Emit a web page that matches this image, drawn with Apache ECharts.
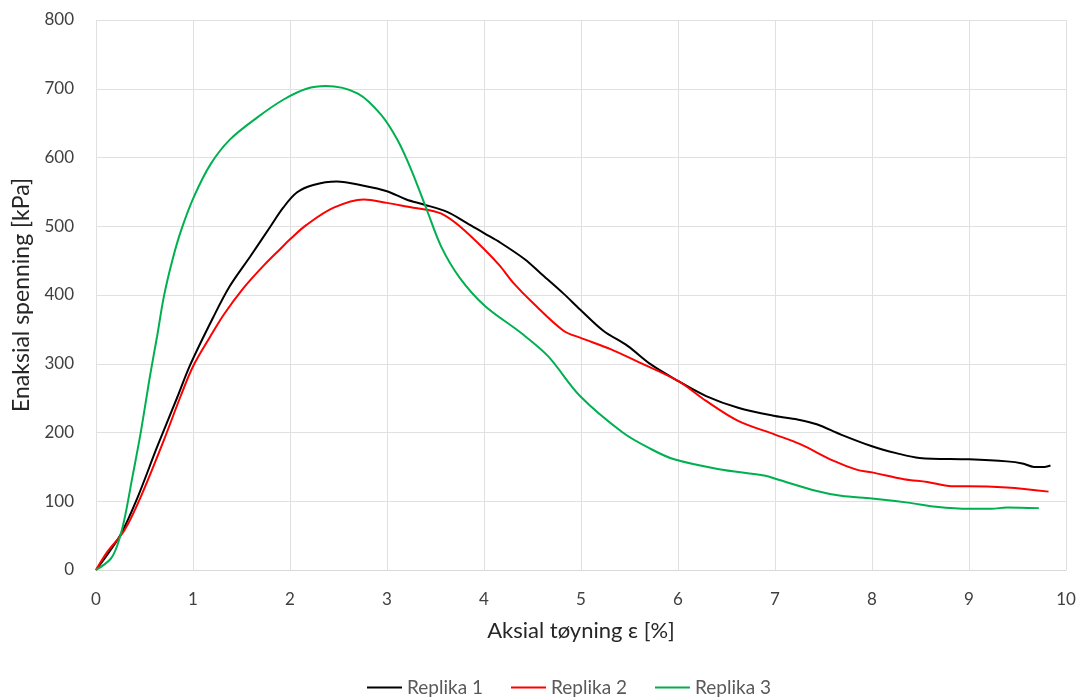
<!DOCTYPE html>
<html><head><meta charset="utf-8">
<script src="https://cdn.jsdelivr.net/npm/echarts@6/dist/echarts.min.js"></script>
<style>html,body{margin:0;padding:0;background:#fff}#c{width:1083px;height:700px}</style>
</head><body><div id="c"></div>
<script>
const seriesNames = ['Replika 1', 'Replika 2', 'Replika 3'];
const xTitle = 'Aksial tøyning ε [%]';
const yTitle = 'Enaksial spenning [kPa]';

const strain1 = [0,0.12,0.26,0.43,0.63,0.84,0.97,1.21,1.38,1.59,1.80,1.93,2.07,2.24,2.48,2.76,3.0,3.2,3.37,3.62,3.82,4.0,4.17,4.42,4.58,4.82,4.99,5.23,5.48,5.72,6.0,6.29,6.62,7.0,7.23,7.43,7.68,8.0,8.25,8.49,9.0,9.39,9.55,9.67,9.78,9.84];
const stress1 = [0,23,53,106,179,252,298,368,413,456,500,527,549,560,565,559,551,539,532,521,505,490,476,452,432,402,379,348,326,299,275,253,236,224,219,212,197,180,170,163,161,158,155,150,150,152];

const strain2 = [0,0.12,0.29,0.46,0.70,0.87,1.0,1.18,1.32,1.52,1.73,1.90,2.0,2.17,2.45,2.76,3.0,3.27,3.41,3.58,3.75,4.0,4.16,4.3,4.5,4.82,4.99,5.31,5.6,6.0,6.29,6.62,7.0,7.26,7.6,7.84,8.0,8.33,8.57,8.82,9.0,9.39,9.82];
const stress2 = [0,27,57,106,189,252,296,340,372,410,443,467,481,502,527,539,534,527,524,517,500,467,443,418,389,348,338,321,302,275,246,217,197,183,159,146,142,132,128,122,122,120,114];

const strain3 = [0,0.15,0.22,0.29,0.375,0.46,0.56,0.63,0.70,0.79,0.88,1.01,1.18,1.38,1.66,1.93,2.17,2.37,2.70,2.94,3.11,3.25,3.41,3.56,3.75,4.01,4.38,4.66,4.99,5.43,5.72,5.96,6.41,6.90,7.02,7.43,7.68,8.0,8.37,8.66,9.0,9.23,9.39,9.72];
const stress3 = [0,16,36,72,135,199,285,340,398,452,495,543,590,626,658,684,700,704,693,662,625,582,524,470,425,384,345,311,253,200,176,161,147,137,132,115,108,104,98,92,89,89,91,90];

const xTicks = [0,1,2,3,4,5,6,7,8,9,10];
const yTicks = [0,100,200,300,400,500,600,700,800];

const colors = ['#000000', '#ff0000', '#00b050'];
const pairs = (xs, ys) => xs.map((x, i) => [x, ys[i]]);
const data = [pairs(strain1, stress1), pairs(strain2, stress2), pairs(strain3, stress3)];

const font = 'Lato, "Liberation Sans", sans-serif';
const chart = echarts.init(document.getElementById('c'), null, {renderer: 'canvas'});
chart.setOption({
  animation: false,
  color: colors,
  grid: {left: 96, right: 17, top: 20, bottom: 130, containLabel: false},
  legend: {
    top: 673, left: 362, itemWidth: 35, itemHeight: 2, itemGap: 28,
    icon: 'rect',
    textStyle: {color: '#595959', fontSize: 19, fontFamily: font},
    data: seriesNames
  },
  xAxis: {
    type: 'value', min: xTicks[0], max: xTicks[xTicks.length - 1], interval: 1,
    name: xTitle, nameLocation: 'middle', nameGap: 50,
    nameTextStyle: {color: '#262626', fontSize: 22, fontFamily: font},
    axisLine: {show: true, lineStyle: {color: '#d9d9d9', width: 1}},
    axisTick: {show: false},
    axisLabel: {color: '#404040', fontSize: 17, fontFamily: font, margin: 21},
    splitLine: {show: true, lineStyle: {color: '#e0e0e0', width: 1}}
  },
  yAxis: {
    type: 'value', min: yTicks[0], max: yTicks[yTicks.length - 1], interval: 100,
    name: yTitle, nameLocation: 'middle', nameGap: 60, nameRotate: 90,
    nameTextStyle: {color: '#262626', fontSize: 23, fontFamily: font},
    axisLine: {show: false},
    axisTick: {show: false},
    axisLabel: {color: '#404040', fontSize: 17, fontFamily: font, margin: 22},
    splitLine: {show: true, lineStyle: {color: '#e0e0e0', width: 1}}
  },
  series: data.map((d, i) => ({
    name: seriesNames[i], type: 'line', data: d, smooth: 0.33, showSymbol: false,
    lineStyle: {width: 2, color: colors[i]}, itemStyle: {color: colors[i]}
  }))
});
</script></body></html>
